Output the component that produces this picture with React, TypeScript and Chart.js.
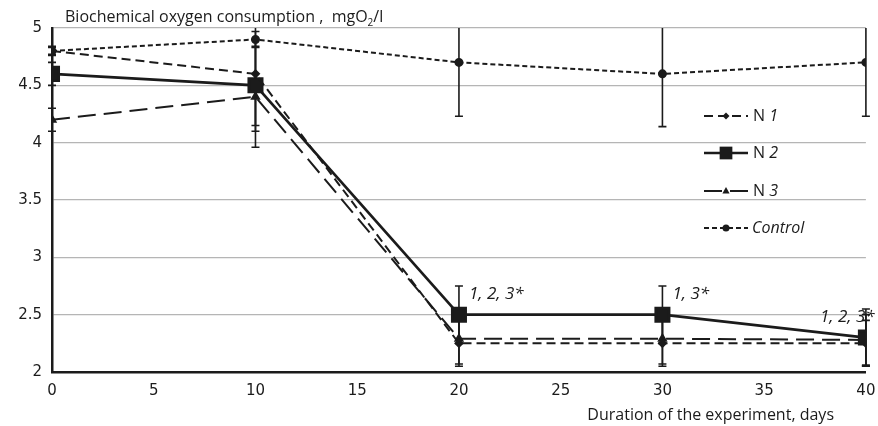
import React, { useEffect, useRef } from "react";
import { Chart, registerables } from "chart.js";

Chart.register(...registerables);

const days = [0, 10, 20, 30, 40];
const n1 = [4.8, 4.6, 2.25, 2.25, 2.25];
const n2 = [4.6, 4.5, 2.5, 2.5, 2.3];
const n3 = [4.2, 4.4, 2.29, 2.29, 2.28];
const control = [4.8, 4.9, 4.7, 4.6, 4.7];

const n1Err = [0.04, 0.45, 0.2, 0.2, 0.2];
const n2Err = [0.1, 0.4, 0.25, 0.25, 0.25];
const n3Err = [0.1, 0.44, 0.22, 0.22, 0.22];
const controlErr = [0.03, 0.07, 0.47, 0.46, 0.47];

const seriesNames = ["N 1", "N 2", "N 3", "Control"];
const annotations = [
  { x: 20, y: 2.75, text: "1, 2, 3*" },
  { x: 30, y: 2.75, text: "1, 3*" },
  { x: 40, y: 2.55, text: "1, 2, 3*" },
];
const yTitle = "Biochemical oxygen consumption ,  mgO";
const xTitle = "Duration of the experiment, days";

const INK = "#1b1b1b";

function drawMarker(ctx: CanvasRenderingContext2D, style: string, x: number, y: number, r: number) {
  ctx.save();
  ctx.setLineDash([]);
  ctx.fillStyle = INK;
  ctx.beginPath();
  if (style === "rect") {
    const s = r * Math.SQRT1_2;
    ctx.rect(x - s, y - s, 2 * s, 2 * s);
  } else if (style === "rectRot") {
    ctx.moveTo(x, y - r);
    ctx.lineTo(x + r, y);
    ctx.lineTo(x, y + r);
    ctx.lineTo(x - r, y);
    ctx.closePath();
  } else if (style === "triangle") {
    ctx.moveTo(x, y - r);
    ctx.lineTo(x + r * 0.9, y + r * 0.6);
    ctx.lineTo(x - r * 0.9, y + r * 0.6);
    ctx.closePath();
  } else {
    ctx.arc(x, y, r, 0, Math.PI * 2);
  }
  ctx.fill();
  ctx.restore();
}

export default function App() {
  const ref = useRef<HTMLCanvasElement | null>(null);

  useEffect(() => {
    if (!ref.current) return;
    const errs = [n1Err, n2Err, n3Err, controlErr];

    const errorBars = {
      id: "errorBars",
      beforeDatasetsDraw(chart: any) {
        const { ctx, chartArea, scales } = chart;
        ctx.save();
        ctx.beginPath();
        ctx.rect(chartArea.left - 10, chartArea.top, chartArea.right - chartArea.left + 20, chartArea.bottom - chartArea.top);
        ctx.clip();
        ctx.strokeStyle = INK;
        ctx.lineWidth = 1.6;
        ctx.setLineDash([]);
        chart.data.datasets.forEach((ds: any, i: number) => {
          ds.data.forEach((p: any, j: number) => {
            const e = errs[i][j];
            const x = scales.x.getPixelForValue(p.x);
            const y1 = scales.y.getPixelForValue(p.y + e);
            const y2 = scales.y.getPixelForValue(p.y - e);
            ctx.beginPath();
            ctx.moveTo(x, y1);
            ctx.lineTo(x, y2);
            ctx.moveTo(x - 4, y1);
            ctx.lineTo(x + 4, y1);
            ctx.moveTo(x - 4, y2);
            ctx.lineTo(x + 4, y2);
            ctx.stroke();
          });
        });
        ctx.restore();
      },
    };

    const overlay = {
      id: "overlay",
      afterDraw(chart: any) {
        const { ctx, scales } = chart;
        ctx.save();
        // y title
        ctx.fillStyle = INK;
        ctx.textBaseline = "alphabetic";
        ctx.font = "16px 'Open Sans'";
        ctx.textAlign = "left";
        ctx.fillText(yTitle, 65, 22);
        const w = ctx.measureText(yTitle).width;
        ctx.font = "10px 'Open Sans'";
        ctx.fillText("2", 65 + w, 26);
        const w2 = ctx.measureText("2").width;
        ctx.font = "16px 'Open Sans'";
        ctx.fillText("/l", 65 + w + w2, 22);
        // x title
        ctx.font = "16px 'Open Sans'";
        ctx.textAlign = "right";
        ctx.fillText(xTitle, 834, 420);
        // annotations
        ctx.font = "italic 17px 'Open Sans'";
        ctx.textAlign = "left";
        annotations.forEach((a) => {
          const x = scales.x.getPixelForValue(a.x);
          const y = scales.y.getPixelForValue(a.y);
          ctx.fillText(a.text, a.x === 40 ? x - 46 : x + 10, y + 13);
        });
        // legend
        const legendY = [116, 153, 191, 228];
        chart.data.datasets.forEach((ds: any, i: number) => {
          const y = legendY[i];
          ctx.strokeStyle = INK;
          ctx.lineWidth = ds.borderWidth;
          ctx.setLineDash(ds.borderDash || []);
          ctx.beginPath();
          ctx.moveTo(704, y);
          ctx.lineTo(748, y);
          ctx.stroke();
          drawMarker(ctx, ds.pointStyle, 726, y, i === 1 ? 9 : ds.pointRadius);
          ctx.setLineDash([]);
          ctx.textAlign = "left";
          ctx.textBaseline = "middle";
          const name = seriesNames[i];
          if (name.startsWith("N ")) {
            ctx.font = "16px 'Open Sans'";
            ctx.fillText("N ", 753, y);
            const nw = ctx.measureText("N ").width;
            ctx.font = "italic 16px 'Open Sans'";
            ctx.fillText(name.slice(2), 753 + nw, y);
          } else {
            ctx.font = "italic 16px 'Open Sans'";
            ctx.fillText(name, 752, y);
          }
        });
        ctx.restore();
      },
    };

    const mk = (arr: number[]) => arr.map((v, i) => ({ x: days[i], y: v }));

    const chart = new Chart(ref.current, {
      type: "line",
      data: {
        datasets: [
          {
            label: seriesNames[0],
            data: mk(n1),
            borderColor: INK,
            backgroundColor: INK,
            borderWidth: 2,
            borderDash: [9, 5],
            pointStyle: "rectRot",
            pointRadius: 3.5,
          },
          {
            label: seriesNames[1],
            data: mk(n2),
            borderColor: INK,
            backgroundColor: INK,
            borderWidth: 2.6,
            pointStyle: "rect",
            pointRadius: 9.5,
          },
          {
            label: seriesNames[2],
            data: mk(n3),
            borderColor: INK,
            backgroundColor: INK,
            borderWidth: 2,
            borderDash: [18, 8],
            pointStyle: "triangle",
            pointRadius: 4,
          },
          {
            label: seriesNames[3],
            data: mk(control),
            borderColor: INK,
            backgroundColor: INK,
            borderWidth: 2,
            borderDash: [5, 3],
            pointStyle: "circle",
            pointRadius: 3.5,
          },
        ] as any,
      },
      options: {
        animation: false,
        responsive: false,
        maintainAspectRatio: false,
        layout: { padding: { top: 28, right: 8, left: 0, bottom: 0 } },
        plugins: { legend: { display: false }, tooltip: { enabled: false } },
        elements: { line: { tension: 0 }, point: { borderWidth: 0 } },
        scales: {
          x: {
            type: "linear",
            min: 0,
            max: 40,
            ticks: { stepSize: 5, color: INK, font: { family: "'DejaVu Sans'", size: 15 }, padding: 10 },
            grid: { display: false, drawTicks: false },
            border: { display: true, color: INK, width: 2.5 },
            afterFit: (s: any) => {
              s.height = 54;
              s.paddingLeft = 0;
              s.paddingRight = 0;
            },
          } as any,
          y: {
            min: 2,
            max: 5,
            ticks: {
              stepSize: 0.5,
              color: INK,
              font: { family: "'DejaVu Sans'", size: 15 },
              padding: 10,
              callback: (v: any) => String(Number(v)),
            },
            grid: { color: "#b5b5b5", lineWidth: 1.2, drawTicks: false },
            border: { display: true, color: INK, width: 2.5 },
            afterFit: (s: any) => {
              s.width = 52;
              s.paddingTop = 0;
              s.paddingBottom = 0;
            },
          } as any,
        },
      },
      plugins: [errorBars, overlay],
    });
    return () => chart.destroy();
  }, []);

  return (
    <div style={{ position: "absolute", left: 0, top: 0, width: 878, height: 426, background: "#fff" }}>
      <canvas ref={ref} width={878} height={426} style={{ width: 878, height: 426 }} />
    </div>
  );
}
